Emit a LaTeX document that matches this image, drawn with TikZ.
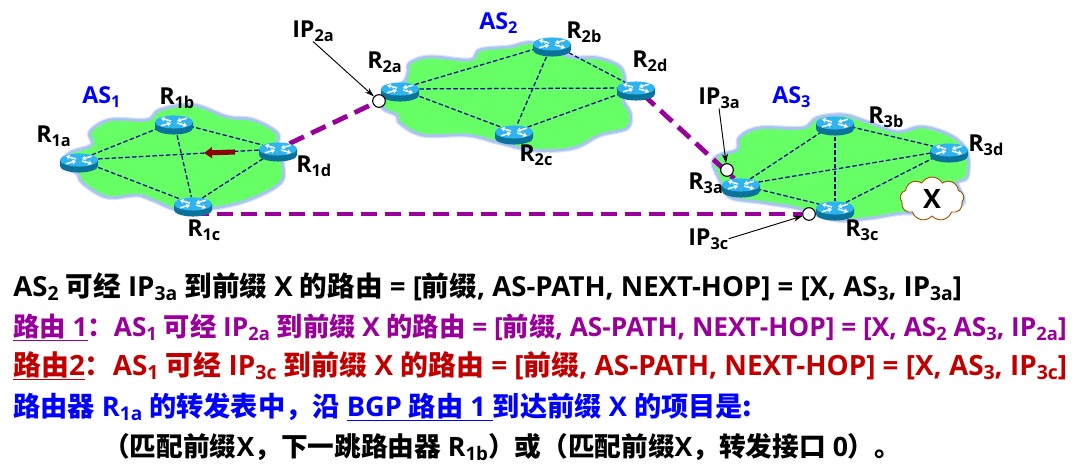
\documentclass[tikz,border=0pt]{standalone}
\usepackage{fontspec}
\usepackage{graphicx}
\usepackage{xcolor}
\usetikzlibrary{shapes.geometric, shapes.symbols, arrows.meta, calc}
\setmainfont{Open Sans}
\newfontfamily\cjkfont{Noto Sans CJK SC}
\newcommand{\zh}[1]{{\cjkfont\bfseries #1}}
\newcommand{\subs}[1]{\raisebox{-0.32ex}{\scalebox{0.7}{#1}}}
\definecolor{cloudgreen}{HTML}{66FF66}
\definecolor{cloudedge}{HTML}{A9C4EE}
\definecolor{routertop}{HTML}{2FB4F0}
\definecolor{routerside}{HTML}{0B7299}
\definecolor{linknavy}{HTML}{0A0A96}
\definecolor{pathpurple}{HTML}{990099}
\definecolor{routered}{HTML}{C00000}
\definecolor{asblue}{HTML}{0000FF}
\pgfdeclarelayer{clouds}
\pgfdeclarelayer{links}
\pgfsetlayers{clouds,links,main}
\newcommand{\router}[2]{
  \fill[routerside] ($(#2)+(-19,-3)$) -- ++(0,6) arc[start angle=180, end angle=360, x radius=14.25pt, y radius=4.9pt] -- ++(0,-6) -- cycle;
  \node[routerdisc] (#1) at ($(#2)+(0,-3)$) {};
  \foreach \sx/\sy in {1/1,-1/-1} {
    \draw[routermark] ($(#1.center)+(\sx*3,\sy*1)$) -- ($(#1.center)+(\sx*13,\sy*3.8)$);
    \draw[routermark] ($(#1.center)+(\sx*13,-\sy*3.8)$) -- ($(#1.center)+(\sx*3,-\sy*1)$);
  }
}
\begin{document}
\begin{tikzpicture}[
  x=0.75pt, y=-0.75pt,
  routerdisc/.style={ellipse, fill=routertop, inner sep=0pt, minimum width=28.5pt, minimum height=9.8pt},
  routermark/.style={white, line width=1.1pt, -{Stealth[length=3pt,width=4pt]}},
  ascloud/.style={fill=cloudgreen, draw=cloudedge, line width=2.2pt, preaction={draw=cloudedge, opacity=0.45, line width=4pt}},
  meshlink/.style={linknavy, line width=0.95pt, dash pattern=on 3.4pt off 1.7pt},
  bgppath/.style={pathpurple, line width=3.6pt, dash pattern=on 12pt off 6pt},
  port/.style={circle, draw, fill=white, line width=0.8pt, inner sep=0pt, minimum size=9.5pt},
  pointer/.style={-{Stealth[length=7pt,width=4.5pt]}, line width=0.7pt},
  rlabel/.style={anchor=base west, inner sep=0pt, font=\fontsize{17.5}{20}\bfseries},
  aslabel/.style={rlabel, text=asblue},
  textline/.style={anchor=base west, inner sep=0pt}
]
  \useasboundingbox (0,0) rectangle (1090,471);

  \begin{pgfonlayer}{clouds}
    \draw[ascloud] plot[smooth cycle, tension=0.6] coordinates {(70,153)(92,145)(90,132)(110,120)(147,120)(160,110)(193,105)(227,117)(253,120)(277,133)(277,147)(283,167)(280,183)(253,198)(220,207)(180,210)(153,200)(137,195)(107,197)(83,183)(77,173)(62,165)};
    \draw[ascloud] plot[smooth cycle, tension=0.6] coordinates {(408,73)(410,63)(430,57)(470,60)(480,50)(510,47)(533,43)(570,57)(597,58)(620,67)(625,83)(623,100)(630,113)(627,128)(600,135)(573,148)(533,150)(497,142)(467,135)(423,135)(400,123)(397,115)(383,108)(383,93)(403,83)};
    \draw[ascloud] plot[smooth cycle, tension=0.6] coordinates {(713,163)(720,155)(737,150)(740,137)(760,128)(803,128)(817,118)(843,115)(867,122)(897,132)(923,127)(953,137)(967,153)(967,177)(957,183)(963,203)(937,213)(903,213)(870,218)(837,220)(810,212)(793,207)(760,202)(730,197)(720,180)};
  \end{pgfonlayer}

  \router{r1a}{79,163}
  \router{r1b}{174,125}
  \router{r1c}{193,207}
  \router{r1d}{278,152}
  \router{r2a}{400,92}
  \router{r2b}{552,47}
  \router{r2c}{514,135}
  \router{r2d}{636,91}
  \router{r3a}{741,188}
  \router{r3b}{835,126}
  \router{r3c}{835,211}
  \router{r3d}{949,153}

  \node[port] (ip2a) at (379,101) {};
  \node[port] (ip3a) at (727,170) {};
  \node[port] (ip3c) at (809,214) {};

  \begin{pgfonlayer}{links}
    \foreach \as in {1,2,3}
      \foreach \from/\to in {a/b,a/c,a/d,b/c,b/d,c/d}
        \draw[meshlink] (r\as\from) -- (r\as\to);
    \draw[bgppath] (r1d) -- (ip2a);
    \draw[bgppath] (r2d) -- (r3a);
    \draw[bgppath] (r1c |- ip3c) -- (ip3c);
  \end{pgfonlayer}

  \coordinate (flowtail) at (235,152);
  \coordinate (flowhead) at (204,153);
  \draw[-{Triangle[length=6pt,width=8pt]}, line width=3.8pt, color=black!45!red] (flowtail) -- (flowhead);

  \node[aslabel] (as1) at (82,103) {AS\subs{1}};
  \node[aslabel] (as2) at (479,29) {AS\subs{2}};
  \node[aslabel] (as3) at (772,103) {AS\subs{3}};

  \node[rlabel] at (36,142) {R\subs{1a}};
  \node[rlabel] at (159,104) {R\subs{1b}};
  \node[rlabel] at (187,236) {R\subs{1c}};
  \node[rlabel] at (296,172) {R\subs{1d}};
  \node[rlabel] at (367,68) {R\subs{2a}};
  \node[rlabel] at (566,38) {R\subs{2b}};
  \node[rlabel] at (519,161) {R\subs{2c}};
  \node[rlabel] at (632,67) {R\subs{2d}};
  \node[rlabel] at (688,189) {R\subs{3a}};
  \node[rlabel] at (868,123) {R\subs{3b}};
  \node[rlabel] at (845,236) {R\subs{3c}};
  \node[rlabel] at (968,151) {R\subs{3d}};

  \node[rlabel] (lblip2a) at (292,37) {IP\subs{2a}};
  \node[rlabel] (lblip3a) at (698,104) {IP\subs{3a}};
  \node[rlabel] (lblip3c) at (688,245) {IP\subs{3c}};
  \draw[pointer] (lblip2a.south) -- (ip2a);
  \draw[pointer] (lblip3a.south) -- (ip3a);
  \draw[pointer] (lblip3c.east) -- (ip3c);

  \node[cloud, cloud puffs=9, cloud puff arc=120, aspect=1.5, draw=black!35!orange, fill=white, line width=0.7pt, minimum width=48pt, minimum height=33pt, inner sep=0pt, font=\fontsize{20}{22}\bfseries] (prefix) at (932,199) {X};

  \node[textline, font=\fontsize{20.7}{24}\bfseries] (line1) at (13,296) {AS\subs{2} \zh{可经} IP\subs{3a} \zh{到前缀} X \zh{的路由} = [\zh{前缀}, AS-PATH, NEXT-HOP] = [X, AS\subs{3}, IP\subs{3a}]};
  \node[textline, font=\fontsize{19.7}{24}\bfseries, text=pathpurple] (line2) at (13,336) {\underline{\zh{路由} 1}\zh{：}AS\subs{1} \zh{可经} IP\subs{2a} \zh{到前缀} X \zh{的路由} = [\zh{前缀}, AS-PATH, NEXT-HOP] = [X, AS\subs{2} AS\subs{3}, IP\subs{2a}]};
  \node[textline, font=\fontsize{20.9}{24}\bfseries, text=routered] (line3) at (13,375) {\underline{\zh{路由}2}\zh{：}AS\subs{1} \zh{可经} IP\subs{3c} \zh{到前缀} X \zh{的路由} = [\zh{前缀}, AS-PATH, NEXT-HOP] = [X, AS\subs{3}, IP\subs{3c}]};
  \node[textline, font=\fontsize{20.4}{24}\bfseries, text=asblue] (line4) at (13,416) {\zh{路由器} R\subs{1a} \zh{的转发表中，沿} \underline{BGP \zh{路由} 1 }\zh{到达前缀} X \zh{的项目是:}};
  \node[textline, font=\fontsize{20}{24}\bfseries] (line5) at (103,456) {\zh{（匹配前缀}X\zh{，下一跳路由器} R\subs{1b}\zh{）或（匹配前缀}X\zh{，转发接口} 0\zh{）。}};
\end{tikzpicture}
\end{document}
